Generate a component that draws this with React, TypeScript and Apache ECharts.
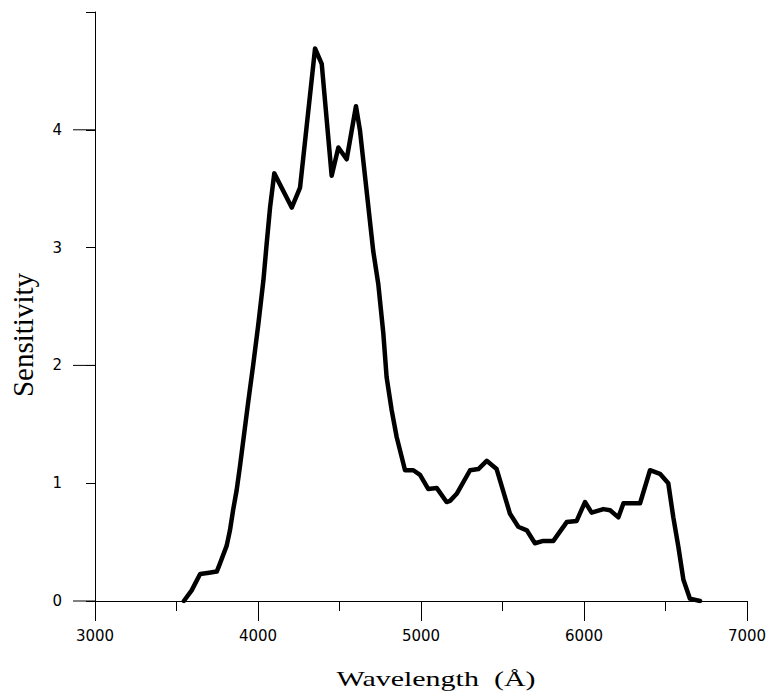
import React, { useEffect, useRef } from "react";
import * as echarts from "echarts";

const wavelengths = [
  3545, 3593, 3645, 3700, 3747, 3767, 3808, 3828, 3847, 3869, 3890, 3941,
  3971, 4002, 4033, 4053, 4074, 4100, 4207, 4258, 4350, 4391, 4452, 4493,
  4544, 4601, 4626, 4707, 4738, 4769, 4789, 4820, 4851, 4882, 4902, 4953,
  4994, 5045, 5096, 5157, 5178, 5219, 5301, 5352, 5403, 5464, 5546, 5597,
  5649, 5699, 5750, 5812, 5894, 5955, 6006, 6047, 6119, 6160, 6211, 6242,
  6344, 6405, 6466, 6517, 6548, 6579, 6610, 6650, 6712,
];
const sensitivity = [
  0, 0.09, 0.23, 0.24, 0.25, 0.32, 0.47, 0.6, 0.77, 0.94, 1.15, 1.7,
  2.01, 2.35, 2.72, 3.03, 3.34, 3.63, 3.34, 3.51, 4.69, 4.56, 3.61, 3.85,
  3.75, 4.2, 3.99, 2.97, 2.69, 2.27, 1.9, 1.62, 1.39, 1.22, 1.11, 1.11,
  1.07, 0.95, 0.96, 0.84, 0.85, 0.91, 1.11, 1.12, 1.19, 1.12, 0.74, 0.63,
  0.6, 0.49, 0.51, 0.51, 0.67, 0.68, 0.84, 0.75, 0.78, 0.77, 0.71, 0.83,
  0.83, 1.11, 1.08, 1.0, 0.71, 0.46, 0.18, 0.02, 0,
];
const yMajorTicks = [0, 2, 4];
const xMin = 3000;
const xMax = 7000;
const yMin = 0;
const yMax = 5;
const xTitle = "Wavelength  (Å)";
const yTitle = "Sensitivity";

export default function App() {
  const ref = useRef<HTMLDivElement>(null);
  useEffect(() => {
    if (!ref.current) return;
    const chart = echarts.init(ref.current, null, { renderer: "svg" });
    const data = wavelengths.map((w, i) => [w, sensitivity[i]]);
    const tickFont = { color: "#000", fontFamily: "DejaVu Sans", fontSize: 15 };
    chart.setOption({
      animation: false,
      backgroundColor: "#fff",
      grid: { left: 95, top: 12, width: 652, height: 589, containLabel: false },
      xAxis: {
        type: "value",
        min: xMin,
        max: xMax,
        interval: 1000,
        axisLine: { show: true, onZero: false, lineStyle: { color: "#000", width: 1 } },
        axisTick: { show: true, length: 20, lineStyle: { color: "#000", width: 1 } },
        minorTick: { show: true, splitNumber: 2, length: 10, lineStyle: { color: "#000", width: 1 } },
        axisLabel: { ...tickFont, margin: 27, formatter: (v: number) => String(v) },
        splitLine: { show: false },
        minorSplitLine: { show: false },
      },
      yAxis: {
        type: "value",
        min: yMin,
        max: yMax,
        interval: 1,
        axisLine: { show: true, onZero: false, lineStyle: { color: "#000", width: 1 } },
        axisTick: { show: true, length: 9, lineStyle: { color: "#000", width: 1 } },
        axisLabel: {
          ...tickFont,
          margin: 33,
          formatter: (v: number) => (v > 4 ? "" : String(v)),
          padding: [0, 0, 7, 0],
        },
        splitLine: { show: false },
      },
      series: [
        {
          type: "line",
          data,
          showSymbol: false,
          symbol: "none",
          lineStyle: { color: "#000", width: 4.5, join: "round", cap: "round" },
          z: 3,
        },
        {
          type: "custom",
          silent: true,
          clip: false,
          data: yMajorTicks.map((v) => [xMin, v]),
          renderItem: (_params: any, api: any) => {
            const p = api.coord([api.value(0), api.value(1)]);
            return {
              type: "line",
              shape: { x1: p[0] - 22, y1: p[1], x2: p[0], y2: p[1] },
              style: { stroke: "#000", lineWidth: 1 },
            };
          },
          z: 1,
        },
      ],
      graphic: [
        {
          type: "text",
          x: 436,
          y: 679,
          scaleY: 0.67,
          style: {
            text: xTitle,
            fill: "#000",
            font: "30px 'Liberation Serif'",
            align: "center",
            verticalAlign: "middle",
          },
        },
        {
          type: "text",
          x: 23,
          y: 335,
          rotation: Math.PI / 2,
          style: {
            text: yTitle,
            fill: "#000",
            font: "29px 'Liberation Serif'",
            align: "center",
            verticalAlign: "middle",
          },
        },
      ],
    });
    return () => chart.dispose();
  }, []);
  return <div ref={ref} style={{ width: 773, height: 693, position: "absolute", left: 0, top: 0 }} />;
}
